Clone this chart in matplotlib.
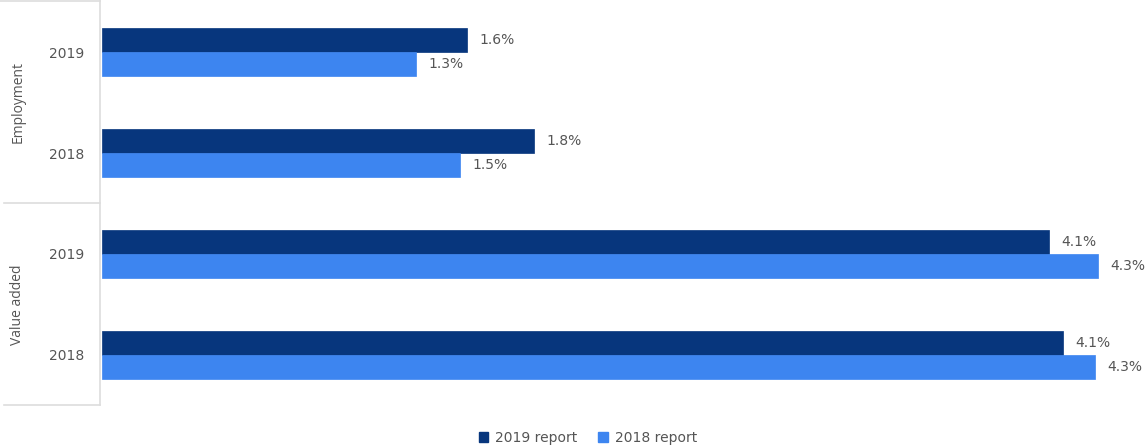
import matplotlib.pyplot as plt
from matplotlib.lines import Line2D
from matplotlib.patches import Patch
import numpy as np

plt.rcParams['font.family'] = ['DejaVu Sans']

groups = ['Employment', 'Value added']
years = ['2019', '2018', '2019', '2018']
series_names = ['2019 report', '2018 report']
report_2019 = [1.58, 1.87, 4.10, 4.16]
report_2018 = [1.36, 1.55, 4.31, 4.30]
labels_2019 = ['1.6%', '1.8%', '4.1%', '4.1%']
labels_2018 = ['1.3%', '1.5%', '4.3%', '4.3%']

dark = '#07367d'
light = '#3d85f0'
text_col = '#555555'
line_col = '#dddddd'

W, H = 1146, 447
fig = plt.figure(figsize=(W / 100, H / 100), dpi=100)
ax = fig.add_axes([102 / W, 1 - 405 / H, 1044 / W, 403 / H])

y = np.arange(len(years))
h = 0.237
b1 = ax.barh(y - h / 2, report_2019, height=h, color=dark, edgecolor=dark, linewidth=0.5)
b2 = ax.barh(y + h / 2, report_2018, height=h, color=light, edgecolor=light, linewidth=0.5)

for bars, labs in ((b1, labels_2019), (b2, labels_2018)):
    for bar, lab in zip(bars, labs):
        ax.annotate(lab, (bar.get_width(), bar.get_y() + bar.get_height() / 2),
                    xytext=(9, 0), textcoords='offset points', va='center', ha='left',
                    fontsize=10, color=text_col)

ax.set_xlim(0, 1044 / 231)
ax.set_ylim(3.5, -0.5)
ax.set_yticks(y)
ax.set_yticklabels(years, fontsize=10, color=text_col)
ax.tick_params(axis='y', length=0, pad=13)
ax.set_xticks([])
for s in ax.spines.values():
    s.set_visible(False)

# left category panel
def fl(x0, y0, x1, y1):
    fig.add_artist(Line2D([x0 / W, x1 / W], [1 - y0 / H, 1 - y1 / H], color=line_col, lw=1.2))

fl(100, 0, 100, 405)
fl(0, 1, 100, 1)
fl(4, 203, 100, 203)
fl(4, 405, 100, 405)

for g, yc in zip(groups, [102, 305]):
    fig.text(18 / W, 1 - yc / H, g, rotation=90, ha='center', va='center',
             fontsize=10, color=text_col, family=['Liberation Sans Narrow', 'Open Sans', 'DejaVu Sans'])

handles = [Patch(color=dark), Patch(color=light)]
fig.legend(handles, series_names, loc='center', bbox_to_anchor=(588 / W, 1 - 438 / H), ncol=2,
           frameon=False, handlelength=0.7, handleheight=0.7, handletextpad=0.5, columnspacing=1.5,
           fontsize=10, labelcolor=text_col)

fig.savefig('out.png', dpi=100)
